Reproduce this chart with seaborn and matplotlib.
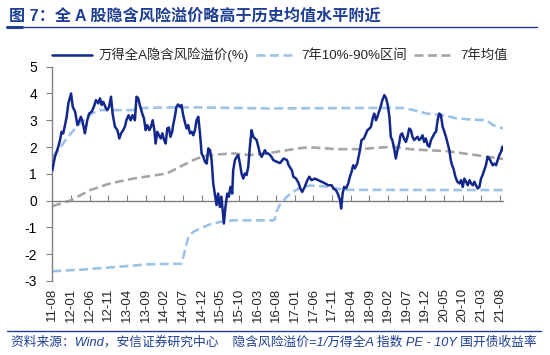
import matplotlib
matplotlib.use("Agg")
import matplotlib.pyplot as plt
import seaborn as sns
import pandas as pd

# ---------------- data ----------------
erp_dates = [
    "2011-08-01", "2011-08-22", "2011-09-19", "2011-10-03", "2011-10-16", "2011-10-29", "2011-11-13", "2011-11-26",
    "2011-12-10", "2012-01-01", "2012-01-15", "2012-02-03", "2012-02-22", "2012-03-05", "2012-03-21", "2012-04-04",
    "2012-04-23", "2012-05-12", "2012-05-28", "2012-06-17", "2012-07-05", "2012-07-22", "2012-08-10", "2012-08-24",
    "2012-09-07", "2012-09-20", "2012-10-12", "2012-10-23", "2012-11-06", "2012-11-22", "2012-12-05", "2012-12-24",
    "2013-01-13", "2013-01-29", "2013-02-12", "2013-03-01", "2013-03-15", "2013-03-28", "2013-04-14", "2013-05-01",
    "2013-05-16", "2013-06-05", "2013-06-18", "2013-07-02", "2013-07-15", "2013-08-04", "2013-08-18", "2013-09-01",
    "2013-09-14", "2013-10-01", "2013-10-14", "2013-10-28", "2013-11-11", "2013-11-21", "2013-12-05", "2013-12-18",
    "2014-01-02", "2014-01-15", "2014-01-29", "2014-02-11", "2014-02-24", "2014-03-09", "2014-03-22", "2014-04-05",
    "2014-04-13", "2014-04-27", "2014-05-10", "2014-05-23", "2014-06-07", "2014-06-20", "2014-07-04", "2014-07-17",
    "2014-08-01", "2014-08-14", "2014-08-28", "2014-09-11", "2014-09-24", "2014-10-08", "2014-10-21", "2014-11-04",
    "2014-11-18", "2014-12-01", "2014-12-15", "2014-12-29", "2015-01-12", "2015-01-25", "2015-02-08", "2015-02-21",
    "2015-03-06", "2015-03-19", "2015-04-02", "2015-04-15", "2015-04-29", "2015-05-12", "2015-06-01", "2015-06-14",
    "2015-06-28", "2015-07-11", "2015-07-25", "2015-08-08", "2015-08-16", "2015-08-30", "2015-09-13", "2015-09-26",
    "2015-10-10", "2015-10-23", "2015-11-06", "2015-11-19", "2015-12-03", "2015-12-17", "2015-12-30", "2016-01-13",
    "2016-01-27", "2016-02-10", "2016-02-23", "2016-03-08", "2016-03-21", "2016-04-04", "2016-04-18", "2016-05-01",
    "2016-05-14", "2016-05-28", "2016-06-11", "2016-06-24", "2016-07-08", "2016-08-05", "2016-09-01", "2016-10-01",
    "2016-10-28", "2016-11-10", "2016-12-07", "2016-12-19", "2017-01-10", "2017-02-01", "2017-02-13", "2017-03-01",
    "2017-03-22", "2017-04-12", "2017-04-28", "2017-05-16", "2017-06-13", "2017-07-10", "2017-08-07", "2017-09-04",
    "2017-10-01", "2017-10-28", "2017-11-10", "2017-12-01", "2017-12-16", "2018-01-04", "2018-01-13", "2018-01-25",
    "2018-02-06", "2018-02-22", "2018-03-12", "2018-03-25", "2018-04-08", "2018-04-21", "2018-05-04", "2018-05-24",
    "2018-06-15", "2018-06-28", "2018-07-18", "2018-08-04", "2018-08-15", "2018-09-01", "2018-09-13", "2018-09-27",
    "2018-10-10", "2018-10-24", "2018-11-04", "2018-11-18", "2018-12-01", "2018-12-15", "2019-01-01", "2019-01-15",
    "2019-01-28", "2019-02-11", "2019-02-22", "2019-03-06", "2019-03-19", "2019-04-04", "2019-04-17", "2019-05-01",
    "2019-05-12", "2019-05-25", "2019-06-09", "2019-06-25", "2019-07-08", "2019-07-22", "2019-08-05", "2019-08-18",
    "2019-09-01", "2019-09-14", "2019-09-28", "2019-10-11", "2019-10-25", "2019-11-08", "2019-11-21", "2019-12-05",
    "2019-12-19", "2020-01-02", "2020-01-16", "2020-01-30", "2020-02-13", "2020-02-26", "2020-03-10", "2020-03-23",
    "2020-04-06", "2020-04-20", "2020-05-04", "2020-05-17", "2020-05-31", "2020-06-14", "2020-06-25", "2020-07-06",
    "2020-07-17", "2020-08-02", "2020-08-18", "2020-09-04", "2020-09-17", "2020-10-01", "2020-10-14", "2020-10-28",
    "2020-11-11", "2020-11-25", "2020-12-08", "2020-12-22", "2021-01-04", "2021-01-17", "2021-01-31", "2021-02-14",
    "2021-02-27", "2021-03-12", "2021-03-25", "2021-04-08", "2021-04-22", "2021-05-06", "2021-05-19", "2021-06-02",
    "2021-06-16", "2021-06-30", "2021-07-13", "2021-07-27", "2021-08-09", "2021-08-20", "2021-08-27",
]
erp_values = [
    1.13, 1.63, 2.01, 2.26, 2.57, 2.51, 2.82, 3.13,
    3.63, 4.00, 3.50, 3.32, 2.82, 2.94, 3.13, 2.94,
    2.51, 3.00, 3.25, 3.32, 3.50, 3.75, 3.63, 3.82,
    3.57, 3.69, 3.44, 3.38, 3.50, 3.88, 3.25, 2.76,
    2.63, 2.32, 2.51, 2.63, 2.76, 3.00, 3.19, 3.00,
    3.19, 3.00, 3.88, 3.82, 3.57, 3.25, 3.07, 2.63,
    2.82, 2.63, 2.76, 3.00, 2.63, 2.13, 2.57, 2.44,
    2.32, 2.51, 2.26, 2.13, 2.69, 2.73, 2.38, 2.57,
    2.82, 3.13, 3.50, 3.59, 3.50, 3.57, 3.19, 2.94,
    2.69, 2.82, 2.51, 2.57, 2.44, 2.63, 3.00, 3.13,
    2.51, 1.76, 1.63, 1.45, 1.38, 1.95, 1.88, 1.51,
    0.64, 0.26, -0.17, 0.26, -0.24, 0.14, -0.86, -0.24,
    0.26, 0.14, 0.51, 0.26, 1.13, 1.51, 1.63, 1.70,
    1.38, 1.01, 0.82, 1.01, 0.95, 1.26, 2.01, 2.63,
    2.38, 2.32, 2.26, 2.01, 1.76, 1.63, 1.76, 1.88,
    1.76, 1.76, 1.70, 1.63, 1.51, 1.45, 1.40, 1.57,
    1.51, 1.32, 1.13, 0.89, 0.82, 0.64, 0.45, 0.32,
    0.51, 0.76, 0.89, 0.76, 0.82, 0.76, 0.70, 0.64,
    0.57, 0.57, 0.45, 0.39, 0.26, 0.01, -0.30, 0.26,
    0.51, 0.45, 0.64, 0.89, 1.07, 1.32, 1.20, 1.38,
    1.88, 2.26, 2.32, 2.51, 2.63, 2.69, 2.76, 3.07,
    3.25, 3.00, 3.13, 3.32, 3.50, 3.75, 3.94, 3.82,
    3.57, 3.13, 2.38, 2.26, 2.01, 1.57, 1.88, 2.13,
    2.44, 2.51, 2.32, 2.19, 2.38, 2.69, 2.63, 2.38,
    2.26, 2.32, 2.38, 2.26, 2.32, 2.44, 2.19, 2.32,
    2.07, 2.01, 2.26, 2.38, 2.51, 2.57, 3.00, 3.25,
    3.19, 2.76, 2.57, 2.38, 2.13, 1.88, 1.51, 1.32,
    1.20, 0.89, 0.70, 0.64, 0.76, 0.51, 0.82, 0.70,
    0.57, 0.76, 0.64, 0.57, 0.70, 0.57, 0.45, 0.51,
    0.82, 0.95, 1.13, 1.32, 1.63, 1.57, 1.45, 1.32,
    1.38, 1.32, 1.51, 1.70, 1.82, 2.01, 1.88,
]

upper_dates = [
    "2011-08-01", "2011-09-19", "2011-11-26", "2012-02-03", "2012-04-10", "2012-06-17", "2012-08-24",
    "2012-11-15", "2013-05-22", "2013-08-13", "2014-02-20", "2014-11-18", "2015-08-16", "2016-05-15",
    "2018-09-06", "2019-06-04", "2019-08-25", "2019-12-12", "2020-04-25", "2020-08-12", "2020-12-01",
    "2021-04-12", "2021-06-06", "2021-08-27",
]
upper_values = [
    1.63, 1.88, 2.32, 2.69, 3.00, 3.25, 3.38,
    3.38, 3.38, 3.46, 3.48, 3.48, 3.46, 3.44,
    3.46, 3.46, 3.38, 3.25, 3.19, 3.07, 3.03,
    3.00, 2.82, 2.69,
]

lower_dates = [
    "2011-08-01", "2012-04-10", "2013-01-08", "2013-10-06", "2014-06-21", "2014-07-18", "2014-08-15",
    "2014-09-24", "2014-11-18", "2015-02-09", "2015-04-29", "2015-08-16", "2016-01-27", "2016-07-08",
    "2016-07-21", "2016-08-04", "2016-09-01", "2016-09-28", "2016-11-10", "2016-12-19", "2017-02-13",
    "2017-05-04", "2017-09-16", "2018-02-01", "2021-08-27",
]
lower_values = [
    -2.64, -2.58, -2.48, -2.38, -2.36, -1.86, -1.36,
    -1.17, -1.05, -0.89, -0.80, -0.74, -0.74, -0.74,
    -0.70, -0.40, -0.15, 0.00, 0.20, 0.33, 0.48,
    0.56, 0.52, 0.40, 0.39,
]

mean_dates = [
    "2011-08-01", "2012-01-01", "2012-06-04", "2012-11-15", "2013-05-22", "2014-02-20", "2014-06-07",
    "2014-09-24", "2014-12-16", "2015-04-02", "2015-08-16", "2015-12-31", "2016-05-15", "2016-10-25",
    "2017-03-09", "2017-06-01", "2017-12-07", "2018-06-15", "2018-11-25", "2019-03-13", "2019-07-28",
    "2019-12-12", "2020-05-22", "2020-10-06", "2021-03-16", "2021-08-27",
]
mean_values = [
    -0.21, 0.01, 0.39, 0.64, 0.82, 1.01, 1.26,
    1.51, 1.66, 1.72, 1.76, 1.70, 1.76, 1.88,
    1.97, 1.98, 1.92, 1.92, 1.98, 2.01, 1.92,
    1.88, 1.85, 1.76, 1.66, 1.55,
]

series_names = ["万得全A隐含风险溢价(%)", "7年10%-90%区间", "7年均值"]
tick_start = "2011-08-01"
tick_end = "2021-08-01"
title_text = "图 7：全 A 股隐含风险溢价略高于历史均值水平附近"
source_text = "资料来源：Wind，安信证券研究中心    隐含风险溢价=1/万得全A 指数 PE - 10Y 国开债收益率"

# ---------------- styling ----------------
sns.set_theme(style="white")
plt.rcParams["font.family"] = ["Liberation Sans", "Noto Sans CJK SC", "DejaVu Sans"]
plt.rcParams["axes.unicode_minus"] = False

NAVY = "#13288C"
LBLUE = "#9DC3E6"
GRAY = "#A6A6A6"
TITLE_BLUE = "#1F3F94"
AXIS_GRAY = "#808080"

fig = plt.figure(figsize=(5.5, 3.55), dpi=100)
ax = fig.add_axes([0.0951, 0.209, 0.8200, 0.603])

df_erp = pd.DataFrame({"date": pd.to_datetime(erp_dates), "v": erp_values})
df_up = pd.DataFrame({"date": pd.to_datetime(upper_dates), "v": upper_values})
df_lo = pd.DataFrame({"date": pd.to_datetime(lower_dates), "v": lower_values})
df_mean = pd.DataFrame({"date": pd.to_datetime(mean_dates), "v": mean_values})

dash = (0, (3.4, 1.7))
sns.lineplot(data=df_up, x="date", y="v", ax=ax, color=LBLUE, lw=1.9,
             linestyle=dash, label=series_names[1], zorder=2)
sns.lineplot(data=df_lo, x="date", y="v", ax=ax, color=LBLUE, lw=1.9,
             linestyle=dash, label="_nolegend_", zorder=2)
sns.lineplot(data=df_mean, x="date", y="v", ax=ax, color=GRAY, lw=1.9,
             linestyle=dash, label=series_names[2], zorder=2)
sns.lineplot(data=df_erp, x="date", y="v", ax=ax, color=NAVY, lw=1.8,
             label=series_names[0], zorder=3)

ax.set_xlabel("")
ax.set_ylabel("")
ax.set_ylim(-3, 5)
ax.set_yticks(range(-3, 6))
ax.set_xlim(pd.Timestamp("2011-08-01"), pd.Timestamp("2021-08-28"))

ticks = pd.date_range(tick_start, tick_end, freq="5MS")

# zero line acts as the category axis, ticks pointing up
ax.spines["bottom"].set_position(("data", 0))
ax.spines["bottom"].set_color(AXIS_GRAY)
ax.spines["bottom"].set_linewidth(1.0)
ax.spines["left"].set_color(AXIS_GRAY)
ax.spines["left"].set_linewidth(1.0)
ax.spines["top"].set_visible(False)
ax.spines["right"].set_visible(False)
ax.set_xticks(ticks)
ax.tick_params(axis="x", direction="in", length=4, width=0.8, color=AXIS_GRAY,
               labelbottom=False, bottom=True)
ax.tick_params(axis="y", direction="out", length=4, width=0.8, color=AXIS_GRAY,
               labelsize=10, pad=7, left=True, labelcolor="black")

sec = ax.secondary_xaxis(0.0)
sec.set_xticks(ticks)
sec.set_xticklabels([d.strftime("%y-%m") for d in ticks], rotation=90, fontsize=9.5)
sec.tick_params(length=0, pad=5)
sec.spines["bottom"].set_visible(False)

# legend
handles, labels = ax.get_legend_handles_labels()
order = [labels.index(n) for n in series_names]
fig.legend([handles[i] for i in order], [labels[i] for i in order],
           loc="center", bbox_to_anchor=(0.509, 0.845), ncol=3, frameon=False,
           fontsize=9.6, handlelength=3.0, columnspacing=0.5, handletextpad=0.45)
if ax.get_legend():
    ax.get_legend().remove()

# title and rules
fig.text(0.016, 0.955, title_text, fontsize=11.6, fontweight="bold", color=TITLE_BLUE,
         ha="left", va="center")
fig.add_artist(plt.Line2D([0.013, 0.977], [0.925, 0.925], color=TITLE_BLUE, lw=1.0))
fig.add_artist(plt.Line2D([0.013, 0.04], [0.925, 0.925], color=TITLE_BLUE, lw=2.2))
fig.add_artist(plt.Line2D([0.013, 0.984], [0.0676, 0.0676], color=TITLE_BLUE, lw=1.0))
fig.text(0.02, 0.037, source_text, fontsize=9.2, style="italic", color=TITLE_BLUE,
         ha="left", va="center")

fig.savefig("out.png", dpi=100)
